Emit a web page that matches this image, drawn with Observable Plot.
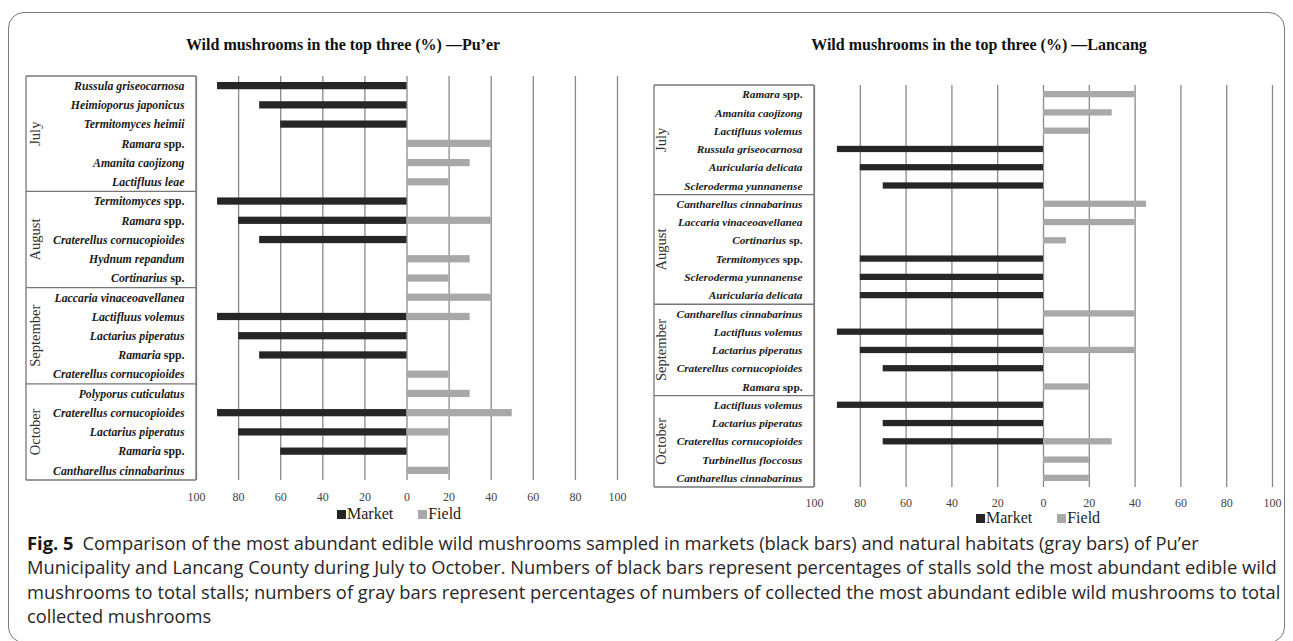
<!DOCTYPE html>
<html>
<head>
<meta charset="utf-8">
<script src="https://cdn.jsdelivr.net/npm/d3@7"></script>
<script src="https://cdn.jsdelivr.net/npm/@observablehq/plot@0.6"></script>
<style>
  html, body { margin: 0; padding: 0; background: #fff; }
  body { width: 1293px; height: 641px; overflow: hidden; position: relative; font-family: "Liberation Serif", serif; }
  #frame { position: absolute; left: 8px; top: 12px; width: 1277px; height: 631px; border: 1.3px solid #7a7a7a; border-radius: 16px; box-sizing: border-box; }
  .title { position: absolute; font: bold 16px "Liberation Serif", serif; color: #111; transform: translate(-50%, -50%); white-space: nowrap; }
  .chart { position: absolute; top: 60px; }
  .legend { position: absolute; font: 16px "Liberation Serif", serif; color: #222; white-space: nowrap; display: flex; align-items: center; height: 18px; }
  .legend .sw { display: inline-block; width: 9px; height: 9px; margin-right: 1px; }
  .legend .item { display: inline-flex; align-items: center; }
  .caption { position: absolute; left: 27px; font-family: "Open Sans", sans-serif; font-size: 18px; color: #2a2627; white-space: nowrap; line-height: 24.4px; }
  .caption b { font-weight: 700; margin-right: 9px; color: #1a1718; }
</style>
</head>
<body>
<div id="frame"></div>
<div class="title" id="t1" style="left:343px; top:45px;"></div>
<div class="title" id="t2" style="left:979px; top:45px;"></div>
<div class="chart" id="c1" style="left:0px;"></div>
<div class="chart" id="c2" style="left:646px;"></div>
<div class="legend" id="l1" style="left:337px; top:505px;"></div>
<div class="legend" id="l2" style="left:976px; top:509px;"></div>
<div class="caption" id="cap" style="top:531px;"></div>
<script>
// ---------- data ----------
const months = ["July", "August", "September", "October"];
const seriesNames = ["Market", "Field"];
const xTicks = [-100, -80, -60, -40, -20, 0, 20, 40, 60, 80, 100];

const puerTitle = "Wild mushrooms in the top three (%) \u2014Pu\u2019er";
const puerSpecies = [
  "Russula griseocarnosa", "Heimioporus japonicus", "Termitomyces heimii", "Ramara spp.", "Amanita caojizong", "Lactifluus leae",
  "Termitomyces spp.", "Ramara spp.", "Craterellus cornucopioides", "Hydnum repandum", "Cortinarius sp.",
  "Laccaria vinaceoavellanea", "Lactifluus volemus", "Lactarius piperatus", "Ramaria spp.", "Craterellus cornucopioides",
  "Polyporus cuticulatus", "Craterellus cornucopioides", "Lactarius piperatus", "Ramaria spp.", "Cantharellus cinnabarinus"
];
const puerMonth = [
  "July", "July", "July", "July", "July", "July",
  "August", "August", "August", "August", "August",
  "September", "September", "September", "September", "September",
  "October", "October", "October", "October", "October"
];
const puerMarket = [90, 70, 60, 0, 0, 0, 90, 80, 70, 0, 0, 0, 90, 80, 70, 0, 0, 90, 80, 60, 0];
const puerField  = [0, 0, 0, 40, 30, 20, 0, 40, 0, 30, 20, 40, 30, 0, 0, 20, 30, 50, 20, 0, 20];

const lancangTitle = "Wild mushrooms in the top three (%) \u2014Lancang";
const lancangSpecies = [
  "Ramara spp.", "Amanita caojizong", "Lactifluus volemus", "Russula griseocarnosa", "Auricularia delicata", "Scleroderma yunnanense",
  "Cantharellus cinnabarinus", "Laccaria vinaceoavellanea", "Cortinarius sp.", "Termitomyces spp.", "Scleroderma yunnanense", "Auricularia delicata",
  "Cantharellus cinnabarinus", "Lactifluus volemus", "Lactarius piperatus", "Craterellus cornucopioides", "Ramara spp.",
  "Lactifluus volemus", "Lactarius piperatus", "Craterellus cornucopioides", "Turbinellus floccosus", "Cantharellus cinnabarinus"
];
const lancangMonth = [
  "July", "July", "July", "July", "July", "July",
  "August", "August", "August", "August", "August", "August",
  "September", "September", "September", "September", "September",
  "October", "October", "October", "October", "October"
];
const lancangMarket = [0, 0, 0, 90, 80, 70, 0, 0, 0, 80, 80, 80, 0, 90, 80, 70, 0, 90, 70, 70, 0, 0];
const lancangField  = [40, 30, 20, 0, 0, 0, 45, 40, 10, 0, 0, 0, 40, 0, 40, 0, 20, 0, 0, 30, 20, 20];

const captionLines = [
  ["Fig. 5", "Comparison of the most abundant edible wild mushrooms sampled in markets (black bars) and natural habitats (gray bars) of Pu\u2019er"],
  ["", "Municipality and Lancang County during July to October. Numbers of black bars represent percentages of stalls sold the most abundant edible wild"],
  ["", "mushrooms to total stalls; numbers of gray bars represent percentages of numbers of collected the most abundant edible wild mushrooms to total"],
  ["", "collected mushrooms"]
];

const colors = {Market: "#262626", Field: "#a8a8a8"};
const serif = "Liberation Serif, Times New Roman, serif";

// ---------- drawing ----------
function drawChart(cfg) {
  const rows = cfg.species.map((name, i) => ({
    key: String(i), name, month: cfg.month[i], market: cfg.market[i], field: cfg.field[i]
  }));
  const keys = rows.map(d => d.key);
  const chart = Plot.plot({
    width: cfg.width,
    height: cfg.height,
    marginLeft: cfg.marginLeft,
    marginRight: cfg.marginRight,
    marginTop: cfg.marginTop,
    marginBottom: cfg.marginBottom,
    style: {fontFamily: serif, background: "transparent", overflow: "visible"},
    x: {domain: [-100, 100]},
    y: {domain: keys, padding: 0, round: false, axis: null},
    marks: [
      Plot.ruleX(xTicks, {stroke: "#8a8a8a", strokeWidth: 1.3}),
      Plot.barX(rows.filter(d => d.market > 0), {
        x1: 0, x2: d => -d.market, y: "key", fill: colors.Market,
        insetTop: cfg.inset, insetBottom: cfg.inset
      }),
      Plot.barX(rows.filter(d => d.field > 0), {
        x1: 0, x2: d => d.field, y: "key", fill: colors.Field,
        insetTop: cfg.inset, insetBottom: cfg.inset
      }),
      Plot.axisX({
        ticks: xTicks, tickFormat: d => Math.abs(d), tickSize: 0, tickPadding: cfg.xPad,
        label: null, fontSize: 12, fill: "#444", fontFamily: serif
      }),
      Plot.text(rows, {
        x: () => -100, y: "key", text: "name", dx: -12, textAnchor: "end",
        fontSize: cfg.labelSize, fontWeight: "bold", fontFamily: serif, fill: "#1a1a1a"
      })
    ]
  });
  cfg.el.appendChild(chart);

  // label styling: genus/epithet italic, "sp."/"spp." upright
  d3.select(chart).selectAll('g[aria-label="text"] text').each(function () {
    const t = this.textContent;
    const m = t.match(/^(.*?)( spp?\.)$/);
    const sel = d3.select(this).text(null);
    if (m) {
      sel.append("tspan").attr("font-style", "italic").text(m[1]);
      sel.append("tspan").attr("font-style", "normal").text(m[2]);
    } else {
      sel.append("tspan").attr("font-style", "italic").text(t);
    }
  });

  // category table (box, month separators, month labels) from the plot's scales
  const xs = chart.scale("x"), ys = chart.scale("y");
  const X = v => xs.apply ? xs.apply(v) : xs.range[0] + (v - xs.domain[0]) / (xs.domain[1] - xs.domain[0]) * (xs.range[1] - xs.range[0]);
  const Y = k => ys.apply ? ys.apply(k) : ys.range[0] + ys.domain.indexOf(k) * ys.step;
  const bw = ys.bandwidth != null ? ys.bandwidth : ys.step;
  const right = X(-100), left = right - cfg.tableWidth;
  const top = Y(keys[0]), bottom = Y(keys[keys.length - 1]) + bw;
  const g = d3.select(chart).append("g").attr("stroke", "#777").attr("stroke-width", 1.3).attr("fill", "none");
  g.append("line").attr("x1", left).attr("x2", left).attr("y1", top).attr("y2", bottom);
  g.append("line").attr("x1", right).attr("x2", right).attr("y1", top).attr("y2", bottom);
  g.append("line").attr("x1", left).attr("x2", right).attr("y1", top).attr("y2", top);
  g.append("line").attr("x1", left).attr("x2", right).attr("y1", bottom).attr("y2", bottom);
  const tg = d3.select(chart).append("g");
  months.forEach((mo, mi) => {
    const ks = rows.filter(d => d.month === mo).map(d => d.key);
    const y0 = Y(ks[0]), y1 = Y(ks[ks.length - 1]) + bw;
    if (mi > 0) g.append("line").attr("x1", left).attr("x2", right).attr("y1", y0).attr("y2", y0);
    const cy = (y0 + y1) / 2, cx = left + cfg.monthOffset;
    tg.append("text")
      .attr("transform", `translate(${cx},${cy}) rotate(-90)`)
      .attr("text-anchor", "middle").attr("dy", "0.35em")
      .attr("font-family", serif).attr("font-size", 14.5).attr("fill", "#333")
      .text(mo);
  });
}

function drawLegend(el) {
  seriesNames.forEach((s, i) => {
    const item = document.createElement("span");
    item.className = "item";
    if (i > 0) item.style.marginLeft = "25px";
    const sw = document.createElement("span");
    sw.className = "sw";
    sw.style.background = colors[s];
    item.appendChild(sw);
    item.appendChild(document.createTextNode(s));
    el.appendChild(item);
  });
}

document.getElementById("t1").textContent = puerTitle;
document.getElementById("t2").textContent = lancangTitle;

drawChart({
  el: document.getElementById("c1"), species: puerSpecies, month: puerMonth, market: puerMarket, field: puerField,
  width: 640, height: 450, marginLeft: 196, marginRight: 23, marginTop: 16, marginBottom: 30,
  inset: 6, xPad: 12, tableWidth: 170, monthOffset: 9, labelSize: 11.8
});
drawChart({
  el: document.getElementById("c2"), species: lancangSpecies, month: lancangMonth, market: lancangMarket, field: lancangField,
  width: 647, height: 460, marginLeft: 168, marginRight: 21, marginTop: 25, marginBottom: 33,
  inset: 6, xPad: 11, tableWidth: 160, monthOffset: 7, labelSize: 11.3
});
drawLegend(document.getElementById("l1"));
drawLegend(document.getElementById("l2"));

const cap = document.getElementById("cap");
captionLines.forEach(([bold, text]) => {
  const div = document.createElement("div");
  if (bold) { const b = document.createElement("b"); b.textContent = bold; div.appendChild(b); }
  div.appendChild(document.createTextNode(text));
  cap.appendChild(div);
});
// fit the caption's widest line to the figure's text width
const span = document.createElement("span");
span.textContent = captionLines[1][1];
span.style.whiteSpace = "nowrap";
cap.appendChild(span);
const w = span.getBoundingClientRect().width;
cap.removeChild(span);
if (w > 0) cap.style.fontSize = (18 * 1250 / w).toFixed(2) + "px";
</script>
</body>
</html>
